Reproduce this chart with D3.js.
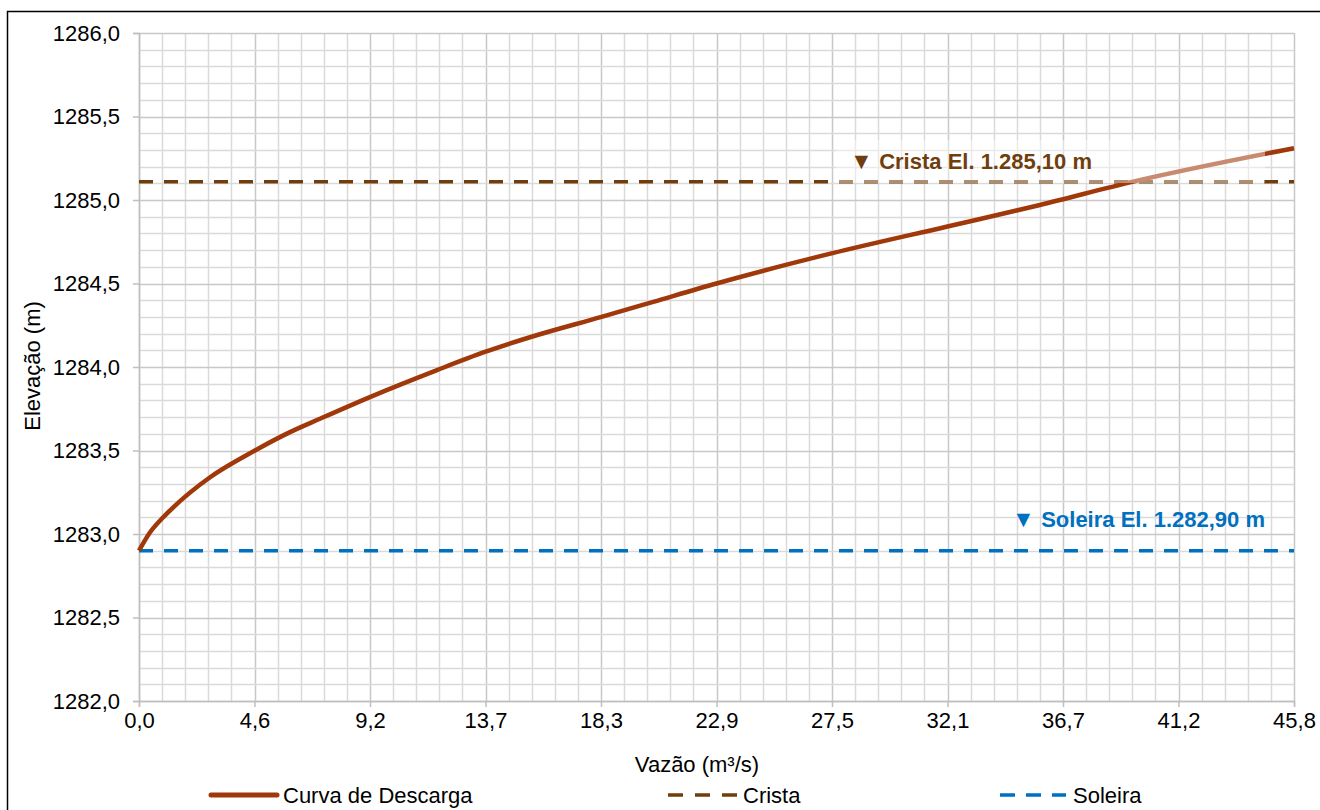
<!DOCTYPE html>
<html>
<head>
<meta charset="utf-8">
<script src="https://cdn.jsdelivr.net/npm/d3@7"></script>
<style>
html,body{margin:0;padding:0;background:#fff;}
svg{display:block;font-family:"Liberation Sans",Arial,sans-serif;}
</style>
</head>
<body>
<svg id="chart" width="1320" height="810"></svg>
<script>
// ---- data ----
const vazao =    [0, 0.44, 0.96, 1.36, 2.82, 4.6, 5.99, 7.18, 9.16, 11.80, 13.72, 15.77, 18.35, 20.40, 22.91, 27.47, 32.03, 35.74, 39.44, 45.82];
const elevacao = [1282.90, 1283.01, 1283.10, 1283.16, 1283.34, 1283.50, 1283.61, 1283.69, 1283.82, 1283.98, 1284.09, 1284.19, 1284.30, 1284.39, 1284.50, 1284.68, 1284.84, 1284.97, 1285.11, 1285.31];
const cristaEl = 1285.11;
const soleiraEl = 1282.90;
const xMax = 45.82;
const xTickLabels = ["0,0","4,6","9,2","13,7","18,3","22,9","27,5","32,1","36,7","41,2","45,8"];
const yTickValues = [1282.0,1282.5,1283.0,1283.5,1284.0,1284.5,1285.0,1285.5,1286.0];
const yTickLabels = ["1282,0","1282,5","1283,0","1283,5","1284,0","1284,5","1285,0","1285,5","1286,0"];
const legendNames = ["Curva de Descarga","Crista","Soleira"];
const cristaLabel = "Crista El. 1.285,10 m";
const soleiraLabel = "Soleira El. 1.282,90 m";

// ---- setup ----
const svg = d3.select("#chart");
const L = 139, R = 1294, T = 33, B = 701;
const x = d3.scaleLinear().domain([0, xMax]).range([L, R]);
const y = d3.scaleLinear().domain([1282, 1286]).range([B, T]);
const xTickValues = d3.range(11).map(i => i * xMax / 10);
const cCurve = "#A0380A", cCrista = "#703E0E", cSoleira = "#0070C0";
const fs = 22;

// outer frame
svg.append("rect").attr("x", 7.5).attr("y", 11.5).attr("width", 1340).attr("height", 830)
  .attr("fill", "none").attr("stroke", "#000").attr("stroke-width", 1.5);

// grid
const grid = svg.append("g");
const xMinor = d3.range(0, 51).map(i => i * xMax / 50);
const yMinor = d3.range(0, 41).map(i => 1282 + i * 0.1);
grid.selectAll("line.vx").data(xMinor).join("line")
  .attr("x1", d => Math.round(x(d)) + 0.5).attr("x2", d => Math.round(x(d)) + 0.5)
  .attr("y1", T).attr("y2", B)
  .attr("stroke", (d, i) => i % 5 === 0 ? "#C8C8C8" : "#DADADA").attr("stroke-width", 1.5);
grid.selectAll("line.hy").data(yMinor).join("line")
  .attr("y1", d => Math.round(y(d)) + 0.5).attr("y2", d => Math.round(y(d)) + 0.5)
  .attr("x1", L).attr("x2", R)
  .attr("stroke", (d, i) => i % 5 === 0 ? "#C8C8C8" : "#DADADA").attr("stroke-width", 1.5);

// axes
const xAxis = d3.axisBottom(x).tickValues(xTickValues).tickFormat((d, i) => xTickLabels[i]).tickSize(6).tickPadding(5);
const yAxis = d3.axisLeft(y).tickValues(yTickValues).tickFormat((d, i) => yTickLabels[i]).tickSize(6).tickPadding(13);
const gx = svg.append("g").attr("transform", `translate(0,${B})`).call(xAxis);
const gy = svg.append("g").attr("transform", `translate(${L},0)`).call(yAxis);
[gx, gy].forEach(g => {
  g.select(".domain").attr("stroke", "#BFBFBF").attr("stroke-width", 1.5);
  g.selectAll(".tick line").attr("stroke", "#BFBFBF").attr("stroke-width", 1.5);
  g.selectAll(".tick text").attr("fill", "#000").style("font-size", fs + "px").style("font-family", '"Liberation Sans",Arial,sans-serif');
});

// reference lines
svg.append("line").attr("x1", L).attr("x2", R).attr("y1", y(cristaEl)).attr("y2", y(cristaEl))
  .attr("stroke", cCrista).attr("stroke-width", 3.5).attr("stroke-dasharray", "14,11");
svg.append("line").attr("x1", L).attr("x2", R).attr("y1", y(soleiraEl)).attr("y2", y(soleiraEl))
  .attr("stroke", cSoleira).attr("stroke-width", 3.5).attr("stroke-dasharray", "14,11");

// curve
const pts = vazao.map((q, i) => [q, elevacao[i]]);
const line = d3.line().x(d => x(d[0])).y(d => y(d[1])).curve(d3.curveMonotoneX);
svg.append("path").datum(pts).attr("d", line).attr("fill", "none")
  .attr("stroke", cCurve).attr("stroke-width", 4.5).attr("stroke-linejoin", "round");

// semi-transparent label box for crista
svg.append("rect").attr("x", 836).attr("y", 140).attr("width", 429).attr("height", 43)
  .attr("fill", "#fff").attr("opacity", 0.42);

// labels
const lab1 = svg.append("text").attr("x", 850).attr("y", 169).attr("fill", cCrista)
  .style("font-size", "22px").style("font-weight", "bold");
lab1.append("tspan").style("font-size", "23px").text("▼ ");
lab1.append("tspan").text(cristaLabel);
const lab2 = svg.append("text").attr("x", 1012).attr("y", 527).attr("fill", cSoleira)
  .style("font-size", "22px").style("font-weight", "bold");
lab2.append("tspan").style("font-size", "23px").text("▼ ");
lab2.append("tspan").text(soleiraLabel);

// axis titles
svg.append("text").attr("x", 697).attr("y", 772).attr("text-anchor", "middle")
  .style("font-size", fs + "px").text("Vazão (m³/s)");
svg.append("text").attr("transform", "translate(40,366) rotate(-90)").attr("text-anchor", "middle")
  .style("font-size", fs + "px").text("Elevação (m)");

// legend
const ly = 795;
svg.append("line").attr("x1", 211).attr("x2", 277).attr("y1", ly).attr("y2", ly)
  .attr("stroke", cCurve).attr("stroke-width", 5).attr("stroke-linecap", "round");
svg.append("text").attr("x", 283).attr("y", ly + 8).style("font-size", fs + "px").text(legendNames[0]);
svg.append("line").attr("x1", 668).attr("x2", 737).attr("y1", ly).attr("y2", ly)
  .attr("stroke", cCrista).attr("stroke-width", 3.5).attr("stroke-dasharray", "15,12");
svg.append("text").attr("x", 743).attr("y", ly + 8).style("font-size", fs + "px").text(legendNames[1]);
svg.append("line").attr("x1", 1000).attr("x2", 1066).attr("y1", ly).attr("y2", ly)
  .attr("stroke", cSoleira).attr("stroke-width", 3.5).attr("stroke-dasharray", "15,11");
svg.append("text").attr("x", 1073).attr("y", ly + 8).style("font-size", fs + "px").text(legendNames[2]);
</script>
</body>
</html>
